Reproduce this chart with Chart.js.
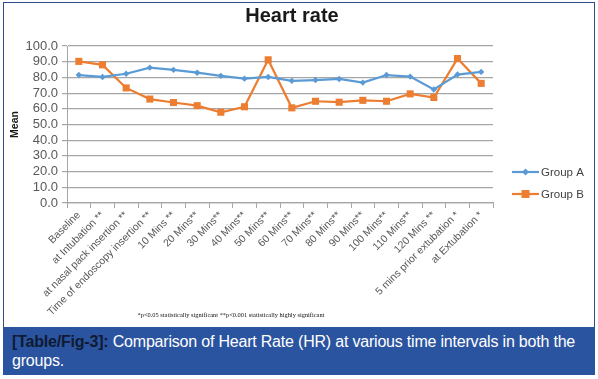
<!DOCTYPE html>
<html>
<head>
<meta charset="utf-8">
<script src="https://cdn.jsdelivr.net/npm/chart.js@4/dist/chart.umd.min.js"></script>
<style>
  html, body { margin:0; padding:0; background:#fff; }
  body { width:598px; height:379px; position:relative; overflow:hidden; font-family:"Liberation Sans", Arial, sans-serif; }
  #frame { position:absolute; left:3px; top:2px; width:592px; height:330px; border:1.5px solid #2d4d87; border-bottom:none; box-sizing:border-box; }
  #wrap { position:absolute; left:0; top:0; width:598px; height:325px; }
  #title { position:absolute; left:192px; width:200px; top:4px; text-align:center; font-weight:bold; font-size:20px; color:#1a1a1a; }
  #note { position:absolute; left:100px; width:262px; top:311px; text-align:center; font-family:"Liberation Serif", serif; font-size:6.4px; color:#111; white-space:nowrap; }
  #cap { position:absolute; left:3px; top:327px; width:592px; height:48px; background:#2b54a0; color:#fff; box-sizing:border-box; padding:5px 0 0 9px; font-size:16px; line-height:19px; letter-spacing:-0.2px; }
  #cap b { color:#0f1a33; }
</style>
</head>
<body>
<div id="frame"></div>
<div id="wrap"><canvas id="c"></canvas></div>
<div id="title">Heart rate</div>
<div id="note">*p&lt;0.05 statistically significant **p&lt;0.001 statistically highly significant</div>
<div id="cap"><b>[Table/Fig-3]:</b> Comparison of Heart Rate (HR) at various time intervals in both the groups.</div>
<script>
const categories = [
  "Baseline", "at Intubation **", "at nasal pack insertion **", "Time of endoscopy insertion **",
  "10 Mins **", "20 Mins**", "30 Mins**", "40 Mins**", "50 Mins**", "60 Mins**",
  "70 Mins**", "80 Mins**", "90 Mins**", "100 Mins**", "110 Mins**", "120 Mins **",
  "5 mins prior extubation *", "at Extubation *"
];
const groupA = [81.5, 80.3, 82.3, 86.2, 84.8, 83.0, 81.0, 79.2, 80.3, 77.8, 78.3, 79.0, 76.7, 81.5, 80.5, 72.3, 81.8, 83.5];
const groupB = [90.2, 88.0, 73.3, 66.2, 64.0, 62.0, 57.8, 61.3, 91.2, 60.6, 64.8, 64.2, 65.4, 64.8, 69.5, 67.2, 92.0, 76.2];
const seriesNames = ["Group A", "Group B"];
const yMin = 0, yMax = 100, yStep = 10;

const colA = "#5b9bd5", colB = "#ed7d31";

const legendPlugin = {
  id: "excelLegend",
  afterDraw(chart) {
    const ctx = chart.ctx;
    const ys = [172, 194];
    chart.data.datasets.forEach((ds, i) => {
      const y = ys[i];
      ctx.save();
      ctx.strokeStyle = ds.borderColor;
      ctx.lineWidth = 2.2;
      ctx.beginPath(); ctx.moveTo(512, y); ctx.lineTo(539, y); ctx.stroke();
      ctx.fillStyle = ds.borderColor;
      if (ds.pointStyle === "rect") {
        ctx.fillRect(525.5 - 4, y - 4, 8, 8);
      } else {
        ctx.beginPath();
        ctx.moveTo(525.5, y - 3.5); ctx.lineTo(529, y); ctx.lineTo(525.5, y + 3.5); ctx.lineTo(522, y);
        ctx.closePath(); ctx.fill();
      }
      ctx.fillStyle = "#404040";
      ctx.font = "11.5px 'Liberation Sans', Arial, sans-serif";
      ctx.textBaseline = "middle";
      ctx.fillText(ds.label, 541, y + 0.5);
      ctx.restore();
    });
  }
};

new Chart(document.getElementById("c"), {
  type: "line",
  data: {
    labels: categories,
    datasets: [
      { label: seriesNames[0], data: groupA, borderColor: colA, backgroundColor: colA,
        borderWidth: 2.2, pointStyle: "rectRot", pointRadius: 3.2, pointBorderWidth: 0, tension: 0 },
      { label: seriesNames[1], data: groupB, borderColor: colB, backgroundColor: colB,
        borderWidth: 2.2, pointStyle: "rect", pointRadius: 5, pointBorderWidth: 0, tension: 0 }
    ]
  },
  plugins: [legendPlugin],
  options: {
    responsive: true,
    maintainAspectRatio: false,
    animation: false,
    layout: { padding: { top: 46, left: 0, right: 105, bottom: 0 } },
    plugins: { legend: { display: false }, title: { display: false }, tooltip: { enabled: false } },
    scales: {
      x: {
        offset: true,
        afterFit: (s) => { s.height = 122; },
        grid: { drawOnChartArea: false, drawTicks: true, tickLength: 5, color: "#a6a6a6", offset: true, lineWidth: 1 },
        border: { color: "#a6a6a6", width: 1.2 },
        ticks: { autoSkip: false, minRotation: 45, maxRotation: 45, padding: 1, color: "#595959",
                 font: { family: "'Liberation Sans', Arial, sans-serif", size: 10.5 } }
      },
      y: {
        min: yMin, max: yMax,
        afterFit: (s) => { s.width = 67; },
        grid: { color: "#a6a6a6", lineWidth: 1.2, drawTicks: true, tickLength: 5 },
        border: { color: "#a6a6a6", width: 1 },
        ticks: { stepSize: yStep, autoSkip: false, padding: 4, color: "#595959",
                 font: { family: "'Liberation Sans', Arial, sans-serif", size: 13 },
                 callback: (v) => Number(v).toFixed(1) },
        title: { display: true, text: "Mean", color: "#1a1a1a", padding: { top: 9, bottom: 0 },
                 font: { family: "'Liberation Sans', Arial, sans-serif", size: 10.5, weight: "bold" } }
      }
    }
  }
});
</script>
</body>
</html>
